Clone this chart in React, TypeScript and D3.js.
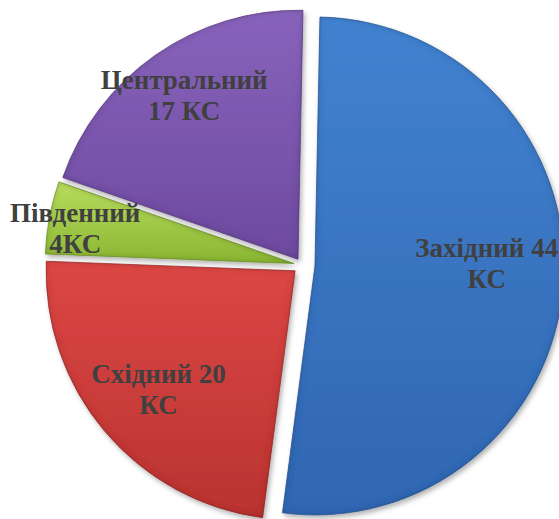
import React from 'react';
import * as d3 from 'd3';

const regions = ['Західний', 'Східний', 'Південний', 'Центральний'];
const counts = [44, 20, 4, 17];
const labelLines = [
  ['Західний 44', 'КС'],
  ['Східний 20', 'КС'],
  ['Південний', '4КС'],
  ['Центральний', '17 КС'],
];
const colorTop = ['#4282d0', '#dc4744', '#b8dc5e', '#8863bb'];
const colorBottom = ['#3166b2', '#b93331', '#8ab633', '#6d4a9f'];
const colorEdge = ['#24508e', '#8e2423', '#6a8c26', '#523679'];
const explode = [13, 9, 8, 7];
const labelRadius = [0.69, 0.726, 0.89, 0.8];
const labelShift = [-0.087, -0.013, -0.03, 0];

export default function App() {
  const W = 559;
  const H = 519;
  const cx = 302;
  const cy = 265;
  const r = 249;
  const rot = 0.02;
  const fs = 27;
  const lineH = 31;

  const pie = d3
    .pie<number>()
    .sort(null)
    .startAngle(rot)
    .endAngle(2 * Math.PI + rot);
  const arcs = pie(counts);
  const arc = d3.arc<d3.PieArcDatum<number>>().innerRadius(0).outerRadius(r);

  return (
    <svg
      width={W}
      height={H}
      style={{ position: 'absolute', left: 0, top: 0, overflow: 'hidden', background: '#fff' }}
    >
      <defs>
        {regions.map((_, i) => (
          <linearGradient key={i} id={`g${i}`} x1="0" y1="0" x2="0" y2="1">
            <stop offset="0%" stopColor={colorTop[i]} />
            <stop offset="100%" stopColor={colorBottom[i]} />
          </linearGradient>
        ))}
        <filter id="shadow" x="-20%" y="-20%" width="140%" height="140%">
          <feDropShadow dx="2" dy="3" stdDeviation="2.5" floodColor="#000" floodOpacity="0.3" />
        </filter>
        <filter id="inner" x="-5%" y="-5%" width="110%" height="110%">
          <feGaussianBlur in="SourceAlpha" stdDeviation="3" result="blur" />
          <feOffset dx="0" dy="0" result="off" />
          <feComposite in="SourceAlpha" in2="off" operator="out" result="rim" />
          <feFlood floodColor="#000" floodOpacity="0.35" />
          <feComposite in2="rim" operator="in" result="rimc" />
          <feMerge>
            <feMergeNode in="SourceGraphic" />
            <feMergeNode in="rimc" />
          </feMerge>
        </filter>
      </defs>
      <g transform={`translate(${cx},${cy})`}>
        {arcs.map((a, i) => {
          const mid = (a.startAngle + a.endAngle) / 2;
          const dx = explode[i] * Math.sin(mid);
          const dy = -explode[i] * Math.cos(mid);
          return (
            <g key={i} transform={`translate(${dx},${dy})`} filter="url(#shadow)">
              <path d={arc(a) || ''} fill={`url(#g${i})`} filter="url(#inner)" />
              <path
                d={arc(a) || ''}
                fill="none"
                stroke={colorEdge[i]}
                strokeWidth={1}
                strokeOpacity={0.7}
              />
            </g>
          );
        })}
        {arcs.map((a, i) => {
          const mid = (a.startAngle + a.endAngle) / 2;
          const dx = explode[i] * Math.sin(mid);
          const dy = -explode[i] * Math.cos(mid);
          const la = mid + labelShift[i];
          const lr = labelRadius[i] * r;
          const lx = dx + lr * Math.sin(la);
          const ly = dy - lr * Math.cos(la);
          const lines = labelLines[i];
          const y0 = ly - ((lines.length - 1) * lineH) / 2 + fs * 0.33;
          return (
            <text
              key={`t${i}`}
              x={lx}
              y={y0}
              textAnchor="middle"
              fontFamily="'Liberation Serif', 'Times New Roman', serif"
              fontWeight="bold"
              fontSize={fs}
              fill="#404040"
            >
              {lines.map((ln, j) => (
                <tspan key={j} x={lx} y={y0 + j * lineH}>
                  {ln}
                </tspan>
              ))}
            </text>
          );
        })}
      </g>
    </svg>
  );
}
